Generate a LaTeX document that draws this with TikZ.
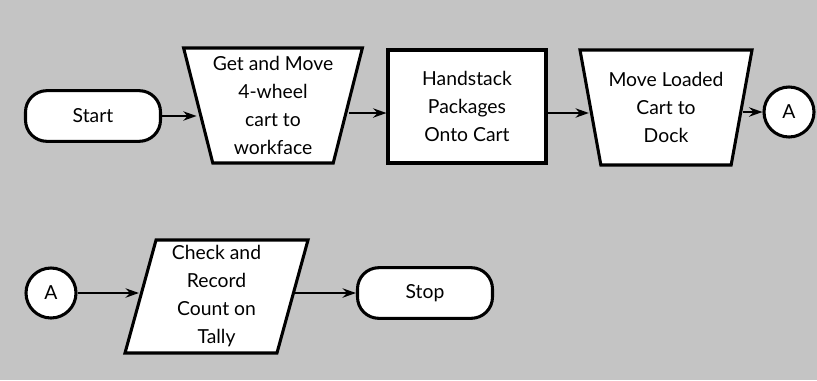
\documentclass[tikz,border=0pt]{standalone}
\usepackage{fontspec}
\setmainfont{Lato}
\usetikzlibrary{shapes.geometric,arrows.meta}
\definecolor{paper}{RGB}{196,196,196}
\begin{document}
\begin{tikzpicture}[x=0.75pt,y=-0.75pt,
  box/.style={draw=black, line width=2.3pt, fill=white, align=center,
    inner sep=0pt, font=\fontsize{14.5}{21}\selectfont},
  term/.style={box, rectangle, rounded corners=16pt,
    minimum width=101.25pt, minimum height=38pt},
  proc/.style={box, rectangle, minimum width=118.5pt, minimum height=84.75pt},
  move/.style={box, trapezium, trapezium stretches body, shape border rotate=180,
    trapezium angle=73.5, minimum height=86.25pt},
  record/.style={box, trapezium, trapezium stretches body,
    trapezium left angle=73, trapezium right angle=107,
    minimum width=137.25pt, minimum height=84.75pt},
  conn/.style={box, circle, minimum size=37.5pt},
  arr/.style={line width=1.4pt, -{Stealth[length=10pt,width=7pt]}}]
  \fill[paper] (0,0) rectangle (817,380);
  \useasboundingbox (0,0) rectangle (817,380);

  % first row
  \node[term] (start) at (93,116) {Start};
  \node[move, minimum width=133.5pt] (get) at (273,105.5)
    {Get and Move\\4-wheel\\cart to\\workface};
  \node[proc] (stack) at (467,106.5) {Handstack\\Packages\\Onto Cart};
  \node[move, minimum width=129pt] (load) at (666,107.5)
    {Move Loaded\\Cart to\\Dock};
  \node[conn] (a1) at (789,112) {A};

  \draw[arr] (start.east) -- (start.east -| get.west);
  \draw[arr] (get.east |- 0,113) -- (stack.west |- 0,113);
  \draw[arr] (stack.east |- 0,113) -- (load.west |- 0,113);
  \draw[arr] (load.east |- a1.west) -- (a1.west);

  % second row
  \node[conn] (a2) at (51,293) {A};
  \node[record] (tally) at (216.5,296.5)
    {Check and\\Record\\Count on\\Tally};
  \node[term] (stop) at (425,293) {Stop};

  \draw[arr] (a2.east) -- (a2.east -| tally.west);
  \draw[arr] (tally.east |- stop.west) -- (stop.west);
\end{tikzpicture}
\end{document}
